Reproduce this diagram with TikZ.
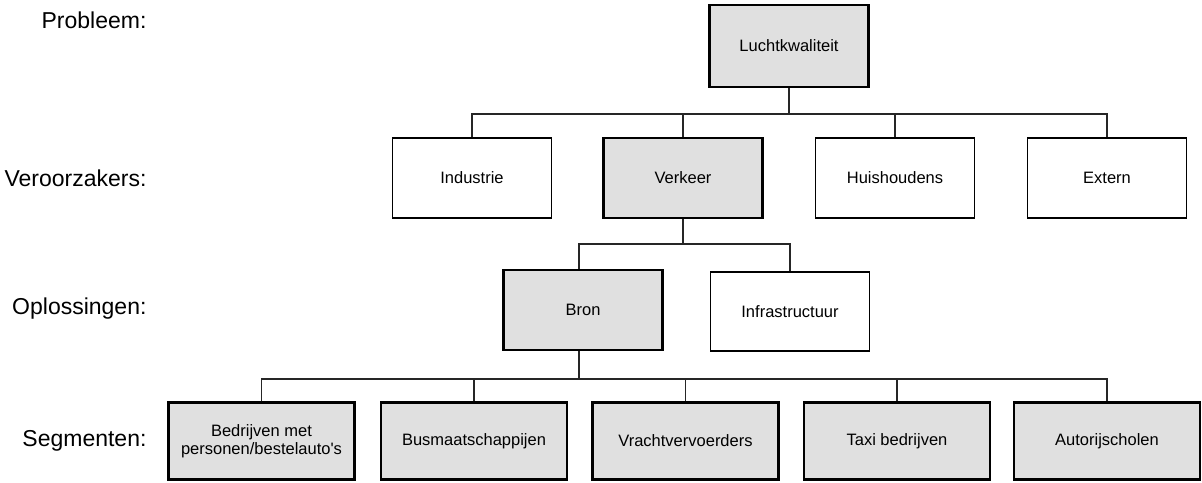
\documentclass[tikz,border=0pt]{standalone}
\usepackage{fontspec}
\setmainfont{Liberation Sans}
\begin{document}
\begin{tikzpicture}[x=1pt,y=-1pt,
  lvl/.style={anchor=east,font=\fontsize{23}{26}\selectfont},
  wbox/.style={draw=black,line width=1.8pt,fill=white,rectangle,minimum width=159pt,minimum height=80pt,inner sep=0pt,font=\fontsize{16.5}{19}\selectfont,align=center},
  gbox/.style={wbox,fill=black!12,line width=2.4pt},
  sbox/.style={gbox,minimum width=186pt,minimum height=77pt},
  conn/.style={draw=black!85,line width=1.1pt}]
\useasboundingbox (0,0) rectangle (1202,482);
\fill[white] (0,0) rectangle (1202,482);
% level labels
\node[lvl] (l1) at (150,20) {Probleem:};
\node[lvl] (l2) at (150,178) {Veroorzakers:};
\node[lvl] (l3) at (150,309) {Oplossingen:};
\node[lvl] (l4) at (150,441) {Segmenten:};
% boxes
\node[gbox,minimum height=82pt] (lk) at (789,46) {Luchtkwaliteit};
\node[wbox] (ind) at (472,178) {Industrie};
\node[gbox] (ver) at (683,178) {Verkeer};
\node[wbox] (hui) at (895,178) {Huishoudens};
\node[wbox] (ext) at (1107,178) {Extern};
\node[gbox] (bron) at (583,310) {Bron};
\node[wbox,minimum height=79pt] (inf) at (790,311.5) {Infrastructuur};
\node[sbox] (s1) at (261.5,441) {Bedrijven met\\[-1pt]personen/bestelauto\textquotesingle s};
\node[sbox] (s2) at (474,441) {Busmaatschappijen};
\node[sbox] (s3) at (685.5,441) {Vrachtvervoerders};
\node[sbox] (s4) at (897,441) {Taxi bedrijven};
\node[sbox] (s5) at (1107,441) {Autorijscholen};
% connectors
\coordinate (j1) at (789,114);
\coordinate (j2) at (683,244);
\coordinate (j3) at (579,379);
\draw[conn] (lk.south) -- (j1);
\draw[conn] (ind.north) |- (j1) -| (ext.north);
\draw[conn] (ver.north) -- (ver.north |- j1);
\draw[conn] (hui.north) -- (hui.north |- j1);
\draw[conn] (ver.south) -- (j2);
\draw[conn] (bron.north -| j3) |- (j2) -| (inf.north);
\draw[conn] (bron.south -| j3) -- (j3);
\draw[conn] (s1.north) |- (j3) -| (s5.north);
\draw[conn] (s2.north) -- (s2.north |- j3);
\draw[conn] (s3.north) -- (s3.north |- j3);
\draw[conn] (s4.north) -- (s4.north |- j3);
\end{tikzpicture}
\end{document}
